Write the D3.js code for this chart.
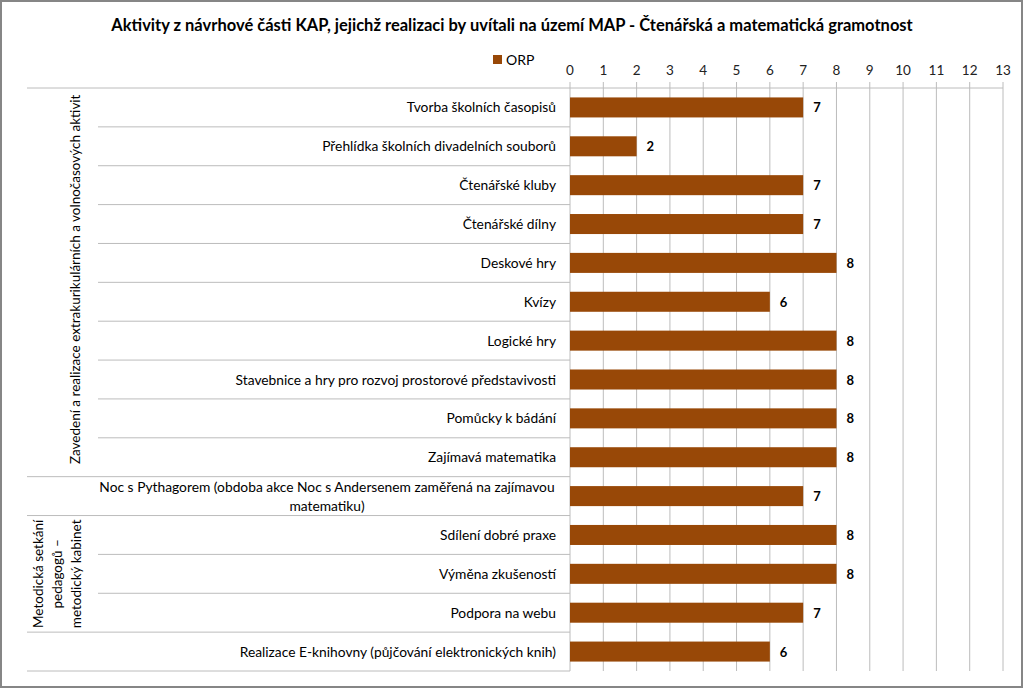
<!DOCTYPE html>
<html><head><meta charset="utf-8">
<script src="https://cdn.jsdelivr.net/npm/d3@7"></script>
<style>body{margin:0;background:#fff}svg{display:block}</style>
</head><body>
<svg id="c" width="1024" height="689"></svg>
<script>
const title = "Aktivity z návrhové části KAP, jejichž realizaci by uvítali na území MAP - Čtenářská a matematická gramotnost";
const seriesName = "ORP";
const categories = [
  "Tvorba školních časopisů",
  "Přehlídka školních divadelních souborů",
  "Čtenářské kluby",
  "Čtenářské dílny",
  "Deskové hry",
  "Kvízy",
  "Logické hry",
  "Stavebnice a hry pro rozvoj prostorové představivosti",
  "Pomůcky k bádání",
  "Zajímavá matematika",
  "Noc s Pythagorem (obdoba akce Noc s Andersenem zaměřená na zajímavou\nmatematiku)",
  "Sdílení dobré praxe",
  "Výměna zkušeností",
  "Podpora na webu",
  "Realizace E-knihovny (půjčování elektronických knih)"
];
const values = [7,2,7,7,8,6,8,8,8,8,7,8,8,7,6];
const ticks = [0,1,2,3,4,5,6,7,8,9,10,11,12,13];
const groupLabels = [
  ["Zavedení a realizace extrakurikulárních a volnočasových aktivit"],
  ["Metodická setkání","pedagogů –","metodický kabinet"]
];
const groupStart = [0, 11];
const groupEnd = [9, 13];

const svg = d3.select("#c");
const font = "Lato, 'Open Sans', sans-serif";
const color = "#984807";
const gridColor = "#bcbcbc";

// frame
svg.append("rect").attr("x",1).attr("y",1).attr("width",1021).attr("height",686)
  .attr("fill","#fff").attr("stroke","#868686").attr("stroke-width",2);

svg.append("text").attr("x",512).attr("y",31).attr("text-anchor","middle")
  .attr("font-family",font).attr("font-weight","bold").attr("font-size",16.5)
  .attr("fill","#000").text(title);

const x = d3.scaleLinear().domain([0,13]).range([570,1003]);
const yRow = d3.scaleBand().domain(d3.range(categories.length)).range([88,671]);
const y = d3.scaleBand().domain(d3.range(categories.length)).range([88,671]).paddingInner(0.485).paddingOuter(0.2425);

// grid
svg.append("g").selectAll("line").data(ticks).join("line")
  .attr("x1",d=>x(d)).attr("x2",d=>x(d)).attr("y1",82).attr("y2",671)
  .attr("stroke",gridColor).attr("stroke-width",1);
// top axis line
svg.append("line").attr("x1",27).attr("x2",x(13)).attr("y1",88).attr("y2",88)
  .attr("stroke",gridColor);

svg.append("g").selectAll("text").data(ticks).join("text")
  .attr("x",d=>x(d)).attr("y",75).attr("text-anchor","middle")
  .attr("font-family",font).attr("font-size",13.5).attr("fill","#222").text(d=>d);

// row separators
svg.append("g").selectAll("line").data(d3.range(categories.length)).join("line")
  .attr("x1",i=>{
    const yy=i+1;
    const inside = groupStart.some((s,k)=>yy>s && yy<=groupEnd[k]);
    return inside?98:27;
  })
  .attr("x2",570).attr("y1",i=>yRow(i)+yRow.bandwidth()).attr("y2",i=>yRow(i)+yRow.bandwidth())
  .attr("stroke",gridColor);

// bars
svg.append("g").selectAll("rect").data(values).join("rect")
  .attr("x",x(0)).attr("y",(d,i)=>y(i)).attr("width",d=>x(d)-x(0)).attr("height",y.bandwidth())
  .attr("fill",color);

svg.append("g").selectAll("text").data(values).join("text")
  .attr("x",d=>x(d)+10).attr("y",(d,i)=>y(i)+y.bandwidth()/2+5)
  .attr("font-family",font).attr("font-weight","bold").attr("font-size",13).attr("fill","#000").text(d=>d);

// category labels
categories.forEach((c,i)=>{
  const lines = c.split("\n");
  const cy = yRow(i)+yRow.bandwidth()/2;
  const t = svg.append("text").attr("font-family",font).attr("font-size",13.8).attr("fill","#000");
  if(lines.length===1){
    t.attr("x",556).attr("y",cy+5).attr("text-anchor","end").text(c);
  } else {
    lines.forEach((l,k)=>{
      t.append("tspan").attr("x",327).attr("y",cy+5+(k-(lines.length-1)/2)*19)
        .attr("text-anchor","middle").text(l);
    });
  }
});

// group labels
groupLabels.forEach((g,k)=>{
  const y0 = yRow(groupStart[k]), y1 = yRow(groupEnd[k])+yRow.bandwidth();
  const cy=(y0+y1)/2 - (g.length===1?3:0);
  const cx = g.length===1?75:57;
  const t = svg.append("text").attr("transform",`translate(${cx},${cy}) rotate(-90)`)
    .attr("text-anchor","middle").attr("font-family",font).attr("font-size",13.5).attr("fill","#000");
  g.forEach((l,j)=>{
    const off = (j-(g.length-1)/2)*19;
    t.append("tspan").attr("x",0).attr("y",off+5).text(l);
  });
});

// legend
svg.append("rect").attr("x",493).attr("y",55).attr("width",9).attr("height",9).attr("fill",color);
svg.append("text").attr("x",506).attr("y",65).attr("font-family",font).attr("font-size",14).attr("fill","#000").text(seriesName);
</script>
</body></html>
